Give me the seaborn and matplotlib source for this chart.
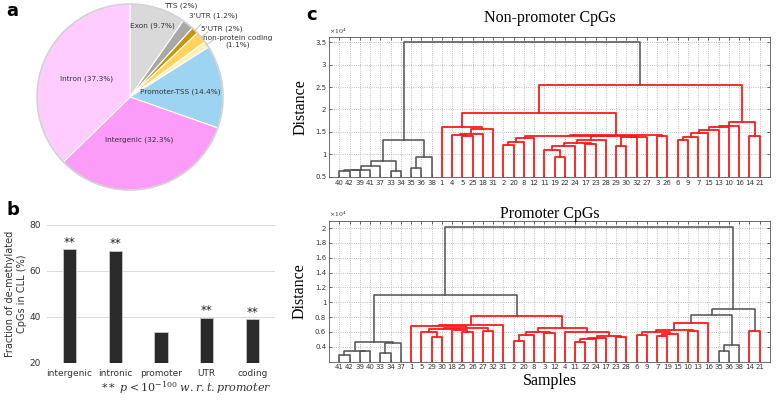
import numpy as np
import pandas as pd
import seaborn as sns
import matplotlib
matplotlib.use("Agg")
import matplotlib.pyplot as plt
from matplotlib.ticker import FormatStrFormatter
from matplotlib.patches import Circle

plt.rcParams['font.family'] = 'DejaVu Sans'
plt.rcParams['mathtext.fontset'] = 'dejavuserif'

# ---- data ----
# (a) genomic annotation of CpGs
pie_labels = ['Exon', 'TTS', "3'UTR", "5'UTR", 'non-protein coding',
              'Promoter-TSS', 'Intergenic', 'Intron']
pie_values = [9.7, 2, 1.2, 2, 1.1, 14.4, 32.3, 37.3]
pie_colors = ['#d9d9d9', '#a8a8a8', '#c8960c', '#ffd45c', '#fff0b8',
              '#9dd4f2', '#fb9cf8', '#ffccff']

# (b) fraction of de-methylated CpGs
bar_cats = ['intergenic', 'intronic', 'promoter', 'UTR', 'coding']
bar_vals = [69.4, 68.8, 33.3, 39.7, 39.0]
bar_sig = ['**', '**', '', '**', '**']

# (c) dendrograms, nodes are (left, right, height[x10^4], optional colour)
top_grey = ((((((40, 42, 0.63), 39, 0.65), 41, 0.66), 37, 0.75), (33, 34, 0.63), 0.86),
            ((35, 36, 0.70), 38, 0.93), 1.31)
top_red1 = (1, (((4, (5, 25, 1.41), 1.44), 18, 1.46), 31, 1.56), 1.61)
top_red2 = (((((2, 20, 1.21), 8, 1.27), 12, 1.37),
             (((((11, (19, 22, 0.93), 1.10), 24, 1.18), (17, 23, 1.23), 1.25), 28, 1.31),
              (((29, 30, 1.19), 32, 1.38), 27, 1.39), 1.40), 1.42),
            (3, 26, 1.42), 1.44)
top_red3 = (((((((6, 9, 1.33), 7, 1.39), 15, 1.47), 13, 1.54), 10, 1.60), 16, 1.64),
            (14, 21, 1.41), 1.71)
top_tree = (top_grey, ((top_red1, top_red2, 1.93), top_red3, 2.54, 'red'), 3.5)

bot_grey = (((41, 42, 0.29), (39, 40, 0.34), 0.345), ((33, 34, 0.315), 37, 0.45), 0.46)
bot_red1 = ((1, (((5, (29, 30, 0.53), 0.60), (18, (25, 26, 0.605), 0.63), 0.635),
                 (27, 32, 0.62), 0.66), 0.68), 31, 0.70)
bot_red2 = ((((2, 20, 0.485), 8, 0.56), (3, 12, 0.59), 0.60),
            (4, ((((11, 22, 0.46), 24, 0.50), 17, 0.52), (23, 28, 0.53), 0.54), 0.60), 0.65)
bot_red3 = ((((6, 9, 0.56), ((7, 19, 0.54), 15, 0.57), 0.60), (10, 13, 0.615), 0.63),
            16, 0.72, 'red')
bot_tree = ((bot_grey, (bot_red1, bot_red2, 0.81, 'red'), 1.10),
            ((bot_red3, ((35, 36, 0.34), 38, 0.43), 0.83), (14, 21, 0.62, 'red'), 0.905),
            2.02)

RED = '#ff1a1a'
GREY = '#4f4f4f'

fig = plt.figure(figsize=(7.78, 4), dpi=100)

# ---- (a) pie ----
axp = fig.add_axes([0.044, 0.518, 0.2463, 0.479])
wedges, _ = axp.pie(pie_values, colors=pie_colors, startangle=90, counterclock=False,
                    wedgeprops=dict(edgecolor='white', linewidth=0.8))
axp.add_patch(Circle((0, 0), 1, fill=False, edgecolor='#d2d2d2', lw=1.2))
axp.set_xlim(-1.03, 1.03)
axp.set_ylim(-1.03, 1.03)

inner_r = {'Exon': 0.8, 'Promoter-TSS': 0.54, 'Intergenic': 0.47, 'Intron': 0.51}
outer_xy = {'TTS': (0.54, 0.98), "3'UTR": (0.90, 0.87), "5'UTR": (0.99, 0.73),
            'non-protein coding': (1.16, 0.60)}
for w, lab, val in zip(wedges, pie_labels, pie_values):
    ang = np.deg2rad((w.theta1 + w.theta2) / 2)
    txt = f'{lab} ({val:g}%)'
    if lab in inner_r:
        r = inner_r[lab]
        axp.text(r * np.cos(ang), r * np.sin(ang), txt, ha='center', va='center',
                 fontsize=5.3, color='#333333')
    else:
        tx, ty = outer_xy[lab]
        if lab == 'non-protein coding':
            txt = f'{lab}\n({val:g}%)'
        axp.text(tx, ty, txt, ha='center', va='center', fontsize=5.3,
                 color='#333333', linespacing=1.1)
        if lab != 'TTS':
            axp.plot([np.cos(ang), 1.09 * np.cos(ang)], [np.sin(ang), 1.09 * np.sin(ang)],
                     color='#bbbbbb', lw=0.6, clip_on=False)

# ---- (b) bars ----
axb = fig.add_axes([0.060, 0.0925, 0.294, 0.345])
sns.barplot(x=bar_cats, y=bar_vals, color='#2a2a2a', saturation=1, width=0.29,
            edgecolor='#c8c8c8', linewidth=0.6, ax=axb, zorder=3)
for i, (v, s) in enumerate(zip(bar_vals, bar_sig)):
    if s:
        axb.text(i, v + 0.2, s, ha='center', va='bottom', fontsize=8.5, color='#222222')
axb.set_ylim(20, 80)
axb.set_yticks([20, 40, 60, 80])
axb.yaxis.grid(True, color='#dcdcdc', lw=0.8)
axb.set_axisbelow(True)
for sp in axb.spines.values():
    sp.set_visible(False)
axb.tick_params(length=0, labelsize=6.5, colors='#333333', pad=4)
axb.set_ylabel('Fraction of de-methylated\nCpGs in CLL (%)', fontsize=7, color='#333333',
               labelpad=2)
fig.text(0.24, 0.032, r'$**\ p < 10^{-100}\ w.r.t.promoter$', ha='center', va='center',
         fontsize=8, color='#333333')


# ---- (c) dendrograms ----
def walk(node, order, segs, color):
    if isinstance(node, int):
        order.append(node)
        return float(len(order)), 0.0
    left, right, h = node[:3]
    if len(node) > 3:
        color = RED
    xl, hl = walk(left, order, segs, color)
    xr, hr = walk(right, order, segs, color)
    segs.append(([xl, xl, xr, xr], [hl, h, h, hr], color))
    return (xl + xr) / 2, h


def dendro(ax, tree, yticks, ylim, title, pad):
    order, segs = [], []
    walk(tree, order, segs, GREY)
    for xs, ys, c in segs:
        ax.plot(xs, ys, color=c, lw=1.3 if c == RED else 1.1, zorder=3)
    ax.set_xlim(0, len(order) + 1)
    ax.set_ylim(*ylim)
    ax.set_xticks(range(1, len(order) + 1))
    ax.set_xticklabels(order)
    ax.set_yticks(yticks)
    ax.yaxis.set_major_formatter(FormatStrFormatter('%g'))
    ax.grid(True, ls=':', color='#aaaaaa', lw=0.6)
    ax.set_axisbelow(True)
    ax.tick_params(direction='in', top=True, right=True, length=2.5, width=0.5,
                   labelsize=5, pad=2, colors='#333333')
    for sp in ax.spines.values():
        sp.set_color('#555555')
        sp.set_linewidth(0.6)
    ax.set_title(title, family='Liberation Serif', fontsize=11.5, pad=pad)
    ax.set_ylabel('Distance', family='Liberation Serif', fontsize=11.5, labelpad=5)
    ax.text(0.0, 1.01, r'$\times10^4$', transform=ax.transAxes, fontsize=4.5,
            ha='left', va='bottom', color='#333333')


axt = fig.add_axes([0.4229, 0.558, 0.5668, 0.349])
dendro(axt, top_tree, np.arange(0.5, 3.51, 0.5), (0.5, 3.61), 'Non-promoter CpGs', 11)

axd = fig.add_axes([0.4229, 0.0958, 0.5668, 0.3525])
dendro(axd, bot_tree, np.arange(0.4, 2.01, 0.2), (0.2, 2.1), 'Promoter CpGs', 2)
axd.set_xlabel('Samples', family='Liberation Serif', fontsize=11.5, labelpad=2)

# panel letters
fig.text(0.008, 0.972, 'a', fontsize=13, fontweight='bold', va='center')
fig.text(0.008, 0.475, 'b', fontsize=13, fontweight='bold', va='center')
fig.text(0.393, 0.962, 'c', fontsize=13, fontweight='bold', va='center')

fig.savefig('out.png', dpi=100)
